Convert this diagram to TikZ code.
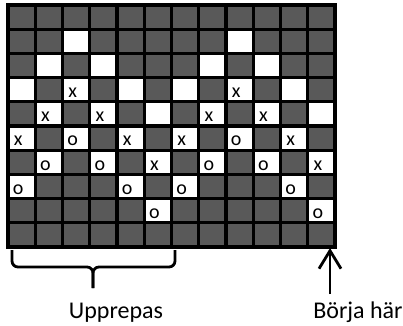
\documentclass[tikz,border=0pt]{standalone}
\usepackage{fontspec}
\setmainfont{Carlito}
\usetikzlibrary{arrows.meta}
\definecolor{cellgray}{HTML}{595959}

\begin{document}
\begin{tikzpicture}[x=1pt,y=-1pt,
  stitch/.style={font=\fontsize{20}{22}\selectfont,inner sep=0pt},
  label/.style={font=\fontsize{24}{28}\selectfont,anchor=base}]
\useasboundingbox (0,0) rectangle (403,325);
\def\cw{27.25}
\def\ch{24.2}

% dark background of the chart
\fill[cellgray] (8,5) rectangle ++({12*\cw},{10*\ch});

% white cells, plain
\foreach \c/\r in {3/2,9/2,2/3,4/3,8/3,10/3,1/4,5/4,7/4,11/4,6/5,12/5}
  \fill[white] ({8+(\c-1)*\cw},{5+(\r-1)*\ch}) rectangle ++(\cw,\ch);

% white cells with a mark
\foreach \c/\r/\t in {3/4/x,9/4/x,2/5/x,4/5/x,8/5/x,10/5/x,
    1/6/x,3/6/o,5/6/x,7/6/x,9/6/o,11/6/x,
    2/7/o,4/7/o,6/7/x,8/7/o,10/7/o,12/7/x,
    1/8/o,5/8/o,7/8/o,11/8/o,6/9/o,12/9/o}{
  \fill[white] ({8+(\c-1)*\cw},{5+(\r-1)*\ch}) rectangle ++(\cw,\ch);
  \node[stitch] (m-\c-\r) at ({8+(\c-0.5)*\cw-3.5},{5+(\r-0.5)*\ch+3}) {\t};
}

% grid lines
\foreach \i in {1,...,11}
  \draw[line width=3.3pt] ({8+\i*\cw},5) -- ++(0,{10*\ch});
\foreach \j in {1,...,9}
  \draw[line width=3.3pt] (8,{5+\j*\ch}) -- ++({12*\cw},0);
\draw[line width=4pt] (8,5) rectangle ++({12*\cw},{10*\ch});

% repeat brace and start arrow
\coordinate (repL) at (12,250);
\coordinate (repR) at (175,250);
\coordinate (repM) at (93,267);
\draw[line width=2.8pt,rounded corners=6pt] (repL) |- (repM) -- (93,288);
\draw[line width=2.8pt,rounded corners=6pt] (repR) |- (repM) -- (93,288);
\node[label] (upprepas) at (116,318) {Upprepas};

\node[label] (borja) at (358,318) {Börja här};
\coordinate (start) at (330,248);
\draw[line width=2.8pt,-{Straight Barb[length=18pt,width=22pt]}] (330,294) -- (start);
\end{tikzpicture}
\end{document}
